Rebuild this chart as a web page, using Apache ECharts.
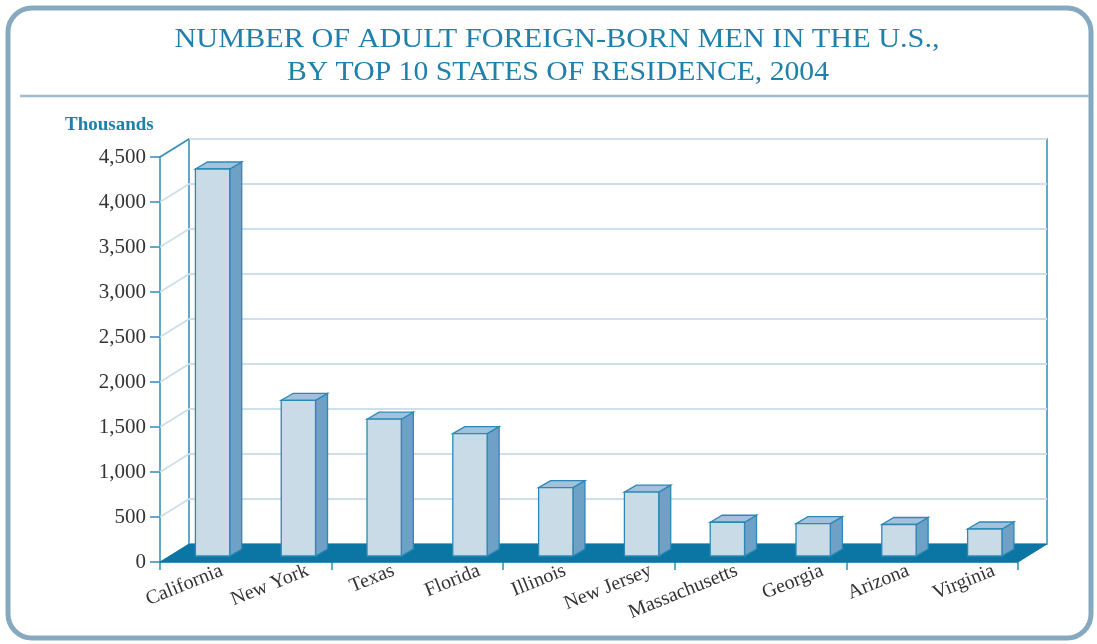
<!DOCTYPE html>
<html>
<head>
<meta charset="utf-8">
<script src="https://cdn.jsdelivr.net/npm/echarts@6/dist/echarts.min.js"></script>
<style>
html,body{margin:0;padding:0;background:#fff;}
#chart{width:1097px;height:644px;}
</style>
</head>
<body>
<div id="chart"></div>
<script>
const categories = ['California','New York','Texas','Florida','Illinois','New Jersey','Massachusetts','Georgia','Arizona','Virginia'];
const values = [4300, 1730, 1520, 1360, 760, 710, 375, 360, 350, 300];
const yTicks = [0, 500, 1000, 1500, 2000, 2500, 3000, 3500, 4000, 4500];
const titleLines = ['NUMBER OF ADULT FOREIGN-BORN MEN IN THE U.S.,', 'BY TOP 10 STATES OF RESIDENCE, 2004'];
const unitLabel = 'Thousands';

const DX = 29, DY = -18;
const SERIF = '"Liberation Serif", "DejaVu Serif", serif';
const TEAL = '#2f8cb8';
const chart = echarts.init(document.getElementById('chart'), null, {renderer: 'canvas'});

const option = {
  backgroundColor: '#fff',
  animation: false,
  grid: [
    {left: 160, right: 79, top: 157, bottom: 82},
    {left: 189, right: 50, top: 139, bottom: 100, show: true, borderColor: TEAL, borderWidth: 1.5, backgroundColor: 'transparent'},
    {left: 179, right: 60, top: 157, bottom: 82}
  ],
  xAxis: [
    {gridIndex: 0, type: 'category', data: categories,
     axisLine: {lineStyle: {color: TEAL, width: 1.5}},
     axisTick: {show: true, length: 8, lineStyle: {color: TEAL, width: 1.5}},
     axisLabel: {show: false}, splitLine: {show: false}},
    {gridIndex: 1, type: 'category', data: categories, show: false},
    {gridIndex: 2, type: 'category', data: categories,
     axisLine: {show: false}, axisTick: {show: false}, splitLine: {show: false},
     axisLabel: {rotate: 22, margin: 8, interval: 0, fontFamily: SERIF, fontSize: 20, color: '#333'}}
  ],
  yAxis: [
    {gridIndex: 0, type: 'value', min: 0, max: 4500, interval: 500,
     axisLine: {show: true, lineStyle: {color: TEAL, width: 1.5}},
     axisTick: {show: true, length: 10, lineStyle: {color: TEAL, width: 1.5}},
     axisLabel: {margin: 14, fontFamily: SERIF, fontSize: 21, color: '#333',
       formatter: v => v.toLocaleString('en-US')},
     splitLine: {show: false}},
    {gridIndex: 1, type: 'value', min: 0, max: 4500, interval: 500,
     axisLine: {show: false}, axisTick: {show: false}, axisLabel: {show: false},
     splitLine: {show: true, lineStyle: {color: '#cfdeeb', width: 2}}},
    {gridIndex: 2, type: 'value', min: 0, max: 4500, show: false}
  ],
  graphic: [
    {type: 'rect', z: -10, shape: {x: 8, y: 8, width: 1083, height: 630, r: 24},
     style: {fill: 'none', stroke: '#86a9bf', lineWidth: 5}},
    {type: 'line', z: -10, shape: {x1: 20, y1: 96, x2: 1089, y2: 96},
     style: {stroke: '#9ebdd0', lineWidth: 2.5}},
    {type: 'text', x: 557, y: 40, scaleX: 1.08, style: {text: titleLines[0], fill: '#1f80ac', font: '28px ' + SERIF, textAlign: 'center', textVerticalAlign: 'middle'}},
    {type: 'text', x: 558, y: 73, scaleX: 1.06, style: {text: titleLines[1], fill: '#1f80ac', font: '28px ' + SERIF, textAlign: 'center', textVerticalAlign: 'middle'}},
    {type: 'text', x: 65, y: 125, style: {text: unitLabel, fill: '#1f80ac', font: 'bold 19px ' + SERIF, textAlign: 'left', textVerticalAlign: 'middle'}}
  ],
  series: [
    {
      type: 'custom', xAxisIndex: 0, yAxisIndex: 0, z: 1,
      data: yTicks.map(v => [0, v]),
      renderItem: function (params, api) {
        const v = api.value(1);
        if (v === 0) return null;
        const p = api.coord([0, v]);
        const x0 = params.coordSys.x;
        return {type: 'line', shape: {x1: x0, y1: p[1], x2: x0 + DX, y2: p[1] + DY},
          style: {stroke: v === 4500 ? TEAL : '#cfdeeb', lineWidth: v === 4500 ? 1.5 : 2}};
      }
    },
    {
      type: 'custom', xAxisIndex: 0, yAxisIndex: 0, z: 2,
      data: [[0, 0]],
      renderItem: function (params, api) {
        const cs = params.coordSys;
        const yb = api.coord([0, 0])[1];
        const x0 = cs.x, x1 = cs.x + cs.width;
        return {type: 'polygon', shape: {points: [[x0, yb], [x0 + DX, yb + DY], [x1 + DX, yb + DY], [x1, yb]]},
          style: {fill: '#0b76a4', stroke: '#0b76a4', lineWidth: 1}};
      }
    },
    {
      type: 'custom', xAxisIndex: 0, yAxisIndex: 0, z: 3,
      data: values.map((v, i) => [i, v]),
      renderItem: function (params, api) {
        const i = api.value(0), v = api.value(1);
        const base = api.coord([i, 0]);
        const top = api.coord([i, v]);
        const bw = api.size([1, 0])[0];
        const fw = bw * 0.4;
        const fx = base[0] + DX / 3 - fw / 2;
        const yb = base[1] + DY / 3;
        const yt = top[1] + DY / 3;
        const sdx = 12, sdy = -7;
        const stroke = '#2d88b5';
        return {type: 'group', children: [
          {type: 'polygon', shape: {points: [[fx + fw, yt], [fx + fw + sdx, yt + sdy], [fx + fw + sdx, yb + sdy], [fx + fw, yb]]},
           style: {fill: '#6fa1c6', stroke: stroke, lineWidth: 1.3}},
          {type: 'polygon', shape: {points: [[fx, yt], [fx + sdx, yt + sdy], [fx + fw + sdx, yt + sdy], [fx + fw, yt]]},
           style: {fill: '#a2c1da', stroke: stroke, lineWidth: 1.3}},
          {type: 'rect', shape: {x: fx, y: yt, width: fw, height: yb - yt},
           style: {fill: '#cadbe8', stroke: stroke, lineWidth: 1.3}}
        ]};
      }
    }
  ]
};
chart.setOption(option);
</script>
</body>
</html>
